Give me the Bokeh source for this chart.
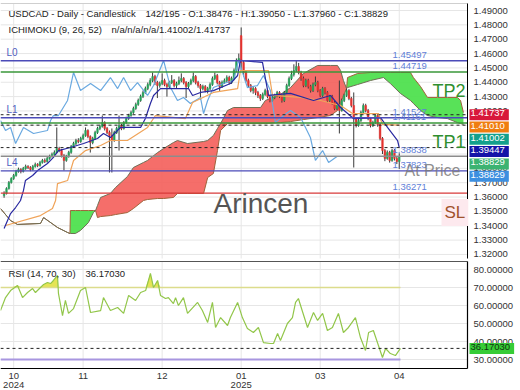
import numpy as np
from bokeh.plotting import figure
from bokeh.models import ColumnDataSource, Range1d, Label
from bokeh.layouts import column
from bokeh.embed import file_html
from bokeh.resources import INLINE

FONT = "Liberation Sans"

# ---------------- data ----------------
first_open = 1.3610
gap_opens = {99: 1.4725}
closes = [
    1.3624, 1.3659, 1.3701, 1.3729, 1.3750, 1.3778, 1.3792, 1.3778, 1.3799, 1.3813,
    1.3806, 1.3792, 1.3813, 1.3827, 1.3820, 1.3841, 1.3855, 1.3848, 1.3869, 1.3883,
    1.3897, 1.3911, 1.3938, 1.3924, 1.3890, 1.3855, 1.3883, 1.3911, 1.3952, 1.3973,
    1.3994, 1.3987, 1.4008, 1.4029, 1.4064, 1.4022, 1.3980, 1.4008, 1.4050, 1.4078,
    1.4092, 1.4119, 1.4078, 1.4050, 1.4029, 1.3994, 1.4050, 1.4078, 1.4099, 1.4078,
    1.4119, 1.4147, 1.4168, 1.4189, 1.4217, 1.4245, 1.4273, 1.4301, 1.4328, 1.4356,
    1.4384, 1.4412, 1.4440, 1.4398, 1.4377, 1.4391, 1.4412, 1.4384, 1.4370, 1.4398,
    1.4412, 1.4377, 1.4391, 1.4412, 1.4426, 1.4398, 1.4370, 1.4391, 1.4412, 1.4440,
    1.4398, 1.4377, 1.4356, 1.4370, 1.4342, 1.4356, 1.4384, 1.4426, 1.4447, 1.4398,
    1.4370, 1.4398, 1.4412, 1.4433, 1.4398, 1.4426, 1.4482, 1.4552, 1.4566, 1.4538,
    1.4468, 1.4412, 1.4377, 1.4342, 1.4356, 1.4328, 1.4308, 1.4287, 1.4315, 1.4342,
    1.4301, 1.4273, 1.4294, 1.4308, 1.4328, 1.4301, 1.4273, 1.4328, 1.4377, 1.4426,
    1.4454, 1.4482, 1.4510, 1.4468, 1.4426, 1.4377, 1.4412, 1.4370, 1.4342, 1.4384,
    1.4398, 1.4342, 1.4308, 1.4356, 1.4328, 1.4273, 1.4301, 1.4259, 1.4217, 1.4245,
    1.4203, 1.4273, 1.4308, 1.4342, 1.4287, 1.4238, 1.4147, 1.4099, 1.4133, 1.4189,
    1.4238, 1.4203, 1.4147, 1.4099, 1.4119, 1.4168, 1.4105, 1.4008, 1.3924, 1.3869,
    1.3911, 1.3855, 1.3924, 1.3869, 1.38476, 1.38829,
]
highs = [
    1.3640, 1.3668, 1.3712, 1.3738, 1.3761, 1.3790, 1.3805, 1.3801, 1.3810, 1.3826,
    1.3822, 1.3815, 1.3824, 1.3840, 1.3836, 1.3852, 1.3866, 1.3869, 1.3880, 1.3895,
    1.3910, 1.3925, 1.4085, 1.3950, 1.3936, 1.3899, 1.3894, 1.3922, 1.3963, 1.3985,
    1.4006, 1.4010, 1.4020, 1.4042, 1.4085, 1.4072, 1.4030, 1.4020, 1.4062, 1.4090,
    1.4105, 1.4168, 1.4128, 1.4088, 1.4064, 1.4078, 1.4062, 1.4090, 1.4168, 1.4110,
    1.4130, 1.4160, 1.4180, 1.4202, 1.4230, 1.4258, 1.4286, 1.4314, 1.4342, 1.4370,
    1.4398, 1.4428, 1.4468, 1.4452, 1.4410, 1.4405, 1.4462, 1.4425, 1.4396, 1.4410,
    1.4450, 1.4422, 1.4404, 1.4440, 1.4462, 1.4436, 1.4408, 1.4402, 1.4425, 1.4468,
    1.4450, 1.4410, 1.4388, 1.4383, 1.4380, 1.4368, 1.4398, 1.4440, 1.4468, 1.4458,
    1.4410, 1.4412, 1.4426, 1.4448, 1.4445, 1.4440, 1.4496, 1.4566, 1.4600, 1.4782,
    1.4550, 1.4480, 1.4425, 1.4388, 1.4370, 1.4366, 1.4340, 1.4318, 1.4328, 1.4355,
    1.4352, 1.4312, 1.4306, 1.4320, 1.4340, 1.4338, 1.4312, 1.4340, 1.4390, 1.4440,
    1.4480, 1.4525, 1.4548, 1.4535, 1.4480, 1.4440, 1.4425, 1.4424, 1.4382, 1.4398,
    1.4440, 1.4410, 1.4352, 1.4368, 1.4366, 1.4338, 1.4312, 1.4312, 1.4270, 1.4258,
    1.4412, 1.4286, 1.4320, 1.4356, 1.4352, 1.4298, 1.4329, 1.4158, 1.4146, 1.4202,
    1.4252, 1.4250, 1.4214, 1.4158, 1.4132, 1.4185, 1.4180, 1.4115, 1.4018, 1.3935,
    1.3925, 1.3922, 1.3936, 1.3935, 1.3880, 1.39050,
]
lows = [
    1.3595, 1.3618, 1.3652, 1.3694, 1.3720, 1.3742, 1.3770, 1.3765, 1.3771, 1.3790,
    1.3795, 1.3780, 1.3784, 1.3805, 1.3808, 1.3812, 1.3833, 1.3837, 1.3840, 1.3860,
    1.3875, 1.3888, 1.3905, 1.3912, 1.3876, 1.3785, 1.3846, 1.3874, 1.3902, 1.3944,
    1.3962, 1.3975, 1.3978, 1.3998, 1.4020, 1.4010, 1.3910, 1.3968, 1.3998, 1.4040,
    1.4066, 1.4084, 1.4064, 1.4038, 1.3771, 1.3771, 1.3985, 1.4040, 1.3924, 1.4066,
    1.4070, 1.4110, 1.4138, 1.4160, 1.4180, 1.4208, 1.4236, 1.4264, 1.4290, 1.4318,
    1.4345, 1.4372, 1.4400, 1.4380, 1.4290, 1.4362, 1.4380, 1.4372, 1.4300, 1.4358,
    1.4388, 1.4364, 1.4360, 1.4380, 1.4400, 1.4385, 1.4290, 1.4358, 1.4380, 1.4400,
    1.4385, 1.4362, 1.4280, 1.4344, 1.4330, 1.4322, 1.4345, 1.4375, 1.4415, 1.4385,
    1.4340, 1.4360, 1.4388, 1.4400, 1.4385, 1.4388, 1.4415, 1.4470, 1.4540, 1.4480,
    1.4440, 1.4400, 1.4364, 1.4330, 1.4320, 1.4310, 1.4290, 1.4270, 1.4276, 1.4305,
    1.4288, 1.4260, 1.4262, 1.4282, 1.4296, 1.4290, 1.4258, 1.4262, 1.4318, 1.4368,
    1.4415, 1.4440, 1.4470, 1.4455, 1.4410, 1.4365, 1.4366, 1.4356, 1.4328, 1.4332,
    1.4372, 1.4330, 1.4296, 1.4298, 1.4315, 1.4260, 1.4262, 1.4245, 1.4205, 1.4206,
    1.4043, 1.4195, 1.4262, 1.4298, 1.4275, 1.4225, 1.3806, 1.4085, 1.4090, 1.4124,
    1.4180, 1.4190, 1.4135, 1.4085, 1.4088, 1.4110, 1.4090, 1.3995, 1.3900, 1.3850,
    1.3860, 1.3840, 1.3846, 1.3855, 1.3830, 1.37960,
]

tenkan_x = [0, 2.7, 4.8, 6.85, 8.1, 8.9, 11.9, 14, 18.1, 20.6, 22.7, 27.7, 33.2, 39, 41.5,
            44.4, 48.6, 57, 59, 61.1, 62.4, 65.3, 77, 78.7, 82, 87.4, 94.5, 97.5, 98.7, 107.9,
            110.4, 119.6, 129.2, 136.3, 140.5, 145.9, 157.2, 160.1, 164.3, 165]
tenkan_y = [1.3381, 1.3485, 1.3527, 1.3576, 1.3646, 1.3715, 1.3750, 1.3785, 1.3834, 1.3876,
            1.3924, 1.3945, 1.3973, 1.4008, 1.4043, 1.4015, 1.4085, 1.4085, 1.4147, 1.4252,
            1.4308, 1.4356, 1.4356, 1.4308, 1.4329, 1.4342, 1.4391, 1.4447, 1.4552, 1.4538,
            1.4308, 1.4322, 1.4273, 1.4308, 1.4224, 1.4147, 1.4154, 1.4085, 1.3994, 1.39447]

kijun_x = [0.6, 15.2, 20.2, 21.5, 22.3, 26.5, 29, 34, 40.3, 44.4, 51.5, 59.9, 63.2, 75.7,
           78.7, 87.4, 97.5, 98.7, 110.4, 112.1, 123.8, 132.1, 140.5, 145.5, 156.3, 158, 165]
kijun_y = [1.3402, 1.3471, 1.3520, 1.3576, 1.3694, 1.3715, 1.3855, 1.3924, 1.3959, 1.3994,
           1.3994, 1.4085, 1.4168, 1.4147, 1.4259, 1.4329, 1.4356, 1.4482, 1.4482, 1.4308,
           1.4294, 1.4273, 1.4238, 1.4182, 1.4182, 1.4106, 1.41010]

chikou_x = [-1.5, 0.6, 2.7, 4.8, 8.1, 12.3, 18.1, 19.4, 20.6, 22.7, 26.5, 29, 31.9, 36.1,
            40.3, 44.4, 47.4, 49.9, 52.8, 55.7, 59.9, 62.4, 66.6, 69.5, 72.4, 74.9, 77.8,
            82, 83.3, 85, 87.4, 91.6, 95.8, 97.9, 101.6, 105.8, 108.3, 111.2, 113.3, 116.7,
            119.6, 123.8, 127.9, 130, 133, 135.5, 139]
chikou_y = [1.4133, 1.4064, 1.4085, 1.3973, 1.4085, 1.4043, 1.4064, 1.4133, 1.4168, 1.4168,
            1.4273, 1.4468, 1.4342, 1.4391, 1.4342, 1.4433, 1.4356, 1.4433, 1.4342, 1.4398,
            1.4308, 1.4377, 1.4552, 1.4363, 1.4273, 1.4294, 1.4252, 1.4294, 1.4182, 1.4273,
            1.4363, 1.4391, 1.4412, 1.4552, 1.4363, 1.4377, 1.4447, 1.4342, 1.4119, 1.4168,
            1.4203, 1.4154, 1.4015, 1.3855, 1.3924, 1.3841, 1.38829]

cloud_x = [-1.5, 2.7, 5.6, 15.2, 16.5, 22.3, 26.5, 27.5, 27.7, 29.8, 31.9, 35.2, 37.3, 38.2,
           39.0, 40.3, 44.4, 46.5, 51.5, 54.0, 58.2, 59.9, 64.1, 66.6, 70.7, 72.4, 76.6,
           83.3, 85.0, 87.4, 89.1, 90.4, 93.3, 95.8, 107.1, 109.1, 115.4, 119.6, 125.0,
           130.9, 136.3, 139.2, 140.5, 141.7, 143.0, 143.4, 147.6, 153.0, 158.4, 161.3,
           165.5, 169.7, 170.9, 173.9, 176.8, 181.0, 185.1, 189.3, 190.6, 191.8]
span_a = [1.3520, 1.3436, 1.3409, 1.3416, 1.3457, 1.3388, 1.3353, 1.3346, 1.3506, 1.3506,
          1.3506, 1.3506, 1.3506, 1.3506, 1.3457, 1.3464, 1.3471, 1.3478, 1.3492, 1.3520,
          1.3576, 1.3583, 1.3590, 1.3590, 1.3597, 1.3625, 1.3625, 1.3625, 1.3736, 1.3764,
          1.3924, 1.4064, 1.4112, 1.4112, 1.4112, 1.4112, 1.4119, 1.4126, 1.4140, 1.4154,
          1.4168, 1.4203, 1.4252, 1.4308, 1.4356, 1.4433, 1.4461, 1.4468, 1.4468, 1.4468,
          1.4468, 1.4468, 1.4433, 1.4370, 1.4294, 1.4294, 1.4294, 1.4294, 1.4273, 1.4189]
span_b = [1.3520, 1.3436, 1.3409, 1.3416, 1.3457, 1.3388, 1.3353, 1.3346, 1.3346, 1.3346,
          1.3367, 1.3422, 1.3492, 1.3506, 1.3541, 1.3597, 1.3625, 1.3666, 1.3743, 1.3806,
          1.3841, 1.3855, 1.3910, 1.3938, 1.3980, 1.3994, 1.3973, 1.3987, 1.3994, 1.4029,
          1.4078, 1.4112, 1.4203, 1.4224, 1.4224, 1.4273, 1.4315, 1.4363, 1.4461, 1.4517,
          1.4517, 1.4517, 1.4482, 1.4412, 1.4356, 1.4363, 1.4384, 1.4412, 1.4433, 1.4391,
          1.4322, 1.4273, 1.4252, 1.4203, 1.4168, 1.4154, 1.4147, 1.4119, 1.4112, 1.4106]

rsi_x = [-1.5, 0.6, 2.7, 5.6, 7.7, 9.8, 11.9, 13.1, 15.2, 16.5, 18.1, 19.4, 20.6, 22.3, 22.7,
         24.4, 25.6, 26.9, 29, 31.9, 34, 36.1, 40.3, 41.5, 44.4, 47.4, 49.9, 52, 54.9, 57,
         59.1, 61.1, 62.4, 64.1, 65.3, 67.4, 68.6, 70.7, 71.6, 72.8, 74.9, 76.6, 80.8, 82.8,
         85, 87, 88.3, 90.4, 93.3, 94.5, 97.5, 99.5, 101.6, 104.1, 106.2, 108.3, 111.2,
         112.5, 114.2, 115.4, 118.3, 120.4, 121.7, 122.9, 123.8, 126.7, 129.2, 130.9, 133,
         135, 137.1, 139.6, 141.7, 143.8, 146.7, 148.8, 150.9, 152.2, 154.2, 158, 159.3,
         161.3, 163.4, 165.5]
rsi_v = [57.2, 64.4, 68.3, 71.1, 64.4, 67.2, 69.4, 67.2, 70, 71.7, 72.8, 72.2, 73.9, 76.7,
         66.7, 54.4, 62.8, 55.6, 58.3, 68.3, 70, 56.1, 57.2, 64.4, 57.2, 58.9, 55.6, 65.6,
         62.8, 67.2, 68.3, 77.8, 70, 73.9, 65.6, 63.9, 64.4, 61.1, 64.4, 60, 64.4, 55.6,
         61.7, 57.2, 50.6, 61.7, 47.8, 53.3, 48.9, 53.3, 61.7, 53.3, 47.2, 45, 47.8, 39.4,
         38.9, 38.9, 44.4, 40.6, 50, 53.3, 61.7, 63.9, 60, 47.8, 56.1, 51.7, 55.6, 46.1,
         47.8, 55.6, 45, 47.8, 53.3, 42.2, 35, 45, 46.1, 31.1, 36.1, 33.3, 32.2, 36.17]
rsi_last = 36.17030
rsi_upper = 70
rsi_lower = 30

level_prices = [1.45497, 1.44719, 1.41527, 1.41161, 1.38838, 1.37823, 1.36271]
level_colors = ["#4b4bb8", "#3a973a", "#4b4bb8", "#3a973a", "#8c8c8c", "#4b4bb8", "#d83a3a"]
level_names = {1.45497: "L0", 1.41527: "L1", 1.37823: "L4"}
marker_prices = [1.41737, 1.41010, 1.39447]
box_texts = ["1.41737", "1.41010", "1.41002", "1.39447", "1.38829", "1.38829"]
box_colors = ["#d8183a", "#f07d10", "#13a08c", "#1414a8", "#3cb371", "#3d8fe0"]

price_ticks = [1.32, 1.33, 1.34, 1.35, 1.36, 1.37, 1.38, 1.39, 1.40,
               1.41, 1.42, 1.43, 1.44, 1.45, 1.46, 1.47, 1.48, 1.49]
rsi_ticks = [30, 40, 50, 60, 70, 80]
tick_bars = [4, 33, 66, 99, 132, 165]
month_labels = ["10", "11", "12", "01", "03", "04"]
year_labels = {4: "2024", 99: "2025"}

# ---------------- geometry (pixels <-> data) ----------------
PX_PER_BAR = 467 / 195.0
X0 = -1.5                      # left edge of the plot area (bar units)
X_PLOT_END = 193.5             # right edge of the plot area (axis line)
X_END = X0 + 520 / PX_PER_BAR  # right edge of the canvas
X_LAB = X0 + 473 / PX_PER_BAR  # where axis labels start
PPU = 1435.0                   # pixels per price unit
P_TOP_CANVAS = 1.49 + 10 / PPU
P_BOT_CANVAS = 1.49 - 250 / PPU
P_TOP = 1.49 + 7 / PPU         # plot area top  (y = 3 px)
P_BOT = 1.49 - 248 / PPU       # plot area bottom (y = 258 px)
R_PPU = 1.8
R_TOP_CANVAS = 70 + 27 / R_PPU   # canvas y = 260
R_BOT_CANVAS = 30 - 31 / R_PPU   # canvas y = 390
R_TOP = 70 + 26 / R_PPU          # panel top (y = 261)
R_BOT = 30 - 9 / R_PPU           # panel bottom (y = 368)

GRID = "#e6e6e6"

# ---------------- main price panel ----------------
opens = [first_open] + closes[:-1]
for k, v in gap_opens.items():
    opens[k] = v
idx = list(range(len(closes)))
cols = ["#27a35a" if c >= o else "#e5322f" for o, c in zip(opens, closes)]
src = ColumnDataSource(dict(
    x=idx, h=highs, l=lows,
    top=[max(o, c) for o, c in zip(opens, closes)],
    bot=[min(o, c) for o, c in zip(opens, closes)],
    color=cols))

p = figure(width=520, height=260, x_range=Range1d(X0, X_END),
           y_range=Range1d(P_BOT_CANVAS, P_TOP_CANVAS),
           x_axis_location=None, y_axis_location=None, toolbar_location=None,
           output_backend="svg", min_border=0)
p.outline_line_color = None
p.grid.visible = False

# grid
p.segment(x0=X0, x1=X_PLOT_END, y0=price_ticks, y1=price_ticks, line_color=GRID, line_width=1)
p.segment(x0=tick_bars, x1=tick_bars, y0=P_BOT, y1=P_TOP, line_color=GRID, line_width=1)
p.segment(x0=X0, x1=X_PLOT_END, y0=P_TOP, y1=P_TOP, line_color="#cfcfcf", line_width=1)

# cloud
a = np.array(span_a)
b = np.array(span_b)
hi = np.maximum(a, b)
p.varea(x=cloud_x, y1=b, y2=hi, fill_color="#4fe04f", fill_alpha=0.95)
p.varea(x=cloud_x, y1=a, y2=hi, fill_color="#f45e5a", fill_alpha=0.9)
p.line(cloud_x, span_a, line_color="#a0623a", line_width=1)
p.line(cloud_x, span_b, line_color="#6f6f55", line_width=1)

# candles
p.segment(x0="x", x1="x", y0="l", y1="h", source=src, line_color="#3a3a3a", line_width=1)
p.vbar(x="x", width=0.7, top="top", bottom="bot", source=src,
       fill_color="color", line_color="color", line_width=0.5)

# ichimoku lines
p.line(chikou_x, chikou_y, line_color="#6aa9e0", line_width=1.2)
p.line(kijun_x, kijun_y, line_color="#f0a45a", line_width=1.2)
p.line(tenkan_x, tenkan_y, line_color="#2828a0", line_width=1.2)

# level lines
p.segment(x0=X0, x1=X_PLOT_END, y0=level_prices, y1=level_prices,
          line_color=level_colors, line_width=1.4)
p.segment(x0=X0, x1=X_PLOT_END, y0=marker_prices, y1=marker_prices,
          line_color="#222222", line_width=1, line_dash="3 3")

# axis (right)
p.segment(x0=X_PLOT_END, x1=X_PLOT_END, y0=P_BOT, y1=P_TOP, line_color="#000000", line_width=1)
p.text(x=[X_LAB] * len(price_ticks), y=price_ticks, text=[f"{t:.5f}" for t in price_ticks],
       text_font={"value": FONT}, text_font_size="9.5px", text_color="#333333",
       text_baseline="middle", text_align="left")

for lp in level_prices:
    p.add_layout(Label(x=392, x_units="screen", y=lp, y_offset=6, text=f"{lp:.5f}",
                       text_font=FONT, text_font_size="9.5px", text_color="#5f7fd8",
                       text_baseline="middle"))
for lp, name in level_names.items():
    p.add_layout(Label(x=6, x_units="screen", y=lp, y_offset=8.5, text=name,
                       text_font=FONT, text_font_size="10px", text_color="#5060c0",
                       text_baseline="middle"))

# price boxes on the right axis
for k, (t, c) in enumerate(zip(box_texts, box_colors)):
    p.add_layout(Label(x=469, x_units="screen", y=marker_prices[0], y_offset=-12.3 * k,
                       text=t, text_font=FONT, text_font_size="9.5px", text_color="white",
                       text_baseline="middle", background_fill_color=c,
                       padding=(1, 4, 1, 4)))

FB = 260  # main frame bottom (canvas px)

def top_label(fig, fb, ytop, **kw):
    fig.add_layout(Label(x_units="screen", y_units="screen", y=fb - ytop, **kw))

top_label(p, FB, 12.5, x=8, text="USDCAD - Daily - Candlestick", text_font=FONT,
          text_font_size="9.5px", text_color="#222222", text_baseline="middle")
top_label(p, FB, 12.5, x=145, text="142/195 - O:1.38476 - H:1.39050 - L:1.37960 - C:1.38829",
          text_font=FONT, text_font_size="9.5px", text_color="#222222", text_baseline="middle")
top_label(p, FB, 29.3, x=8, text="ICHIMOKU (9, 26, 52)", text_font=FONT,
          text_font_size="9.5px", text_color="#222222", text_baseline="middle")
top_label(p, FB, 29.3, x=111, text="n/a/n/a/n/a/1.41002/1.41737", text_font=FONT,
          text_font_size="9.5px", text_color="#222222", text_baseline="middle")
top_label(p, FB, 90, x=432, text="TP2", text_font=FONT, text_font_size="18px",
          text_color="#2f8f2f", text_baseline="alphabetic")
top_label(p, FB, 141, x=432, text="TP1", text_font=FONT, text_font_size="18px",
          text_color="#2f8f2f", text_baseline="alphabetic")
top_label(p, FB, 212, x=441, text="SL", text_font=FONT, text_font_size="17px",
          text_color="#a0522d", text_baseline="alphabetic",
          background_fill_color="#fde9ee", padding=(3, 3, 4, 4))
top_label(p, FB, 170, x=404, text="At Price", text_font=FONT, text_font_size="16px",
          text_color="#7a7a7a", text_alpha=0.85, text_baseline="middle")
top_label(p, FB, 203, x=213, text="Arincen", text_font=FONT, text_font_size="28px",
          text_color="#555555", text_baseline="alphabetic")

# ---------------- RSI panel ----------------
r = figure(width=520, height=130, x_range=p.x_range,
           y_range=Range1d(R_BOT_CANVAS, R_TOP_CANVAS),
           x_axis_location=None, y_axis_location=None, toolbar_location=None,
           output_backend="svg", min_border=0)
r.outline_line_color = None
r.grid.visible = False

r.segment(x0=X0, x1=X_PLOT_END, y0=rsi_ticks, y1=rsi_ticks, line_color=GRID, line_width=1)
r.segment(x0=tick_bars, x1=tick_bars, y0=R_BOT, y1=R_TOP, line_color=GRID, line_width=1)

rv = np.array(rsi_v)
r.varea(x=rsi_x, y1=[rsi_upper] * len(rsi_x), y2=np.maximum(rv, rsi_upper),
        fill_color="#e3e34c", fill_alpha=0.95)
r.line([rsi_x[0], rsi_x[-1]], [rsi_upper, rsi_upper], line_color="#dcdc8c", line_width=1.5)
r.line([rsi_x[0], rsi_x[-1]], [rsi_lower, rsi_lower], line_color="#a896e0", line_width=2)
r.line(rsi_x, rsi_v, line_color="#92c64a", line_width=1.2)
r.segment(x0=X0, x1=X_PLOT_END, y0=rsi_last, y1=rsi_last, line_color="#222222",
          line_width=1, line_dash="3 3")

# panel border
r.segment(x0=X0, x1=X_PLOT_END, y0=R_TOP, y1=R_TOP, line_color="#555555", line_width=1.2)
r.segment(x0=X0, x1=X_PLOT_END, y0=R_BOT, y1=R_BOT, line_color="#000000", line_width=1.2)
r.segment(x0=X_PLOT_END, x1=X_PLOT_END, y0=R_BOT, y1=R_TOP, line_color="#000000", line_width=1.2)

r.text(x=[X_LAB] * len(rsi_ticks), y=rsi_ticks, text=[f"{t:.5f}" for t in rsi_ticks],
       text_font={"value": FONT}, text_font_size="9.5px", text_color="#333333",
       text_baseline="middle", text_align="left")

r.add_layout(Label(x=469, x_units="screen", y=rsi_last, text=f"{rsi_last:.5f}",
                   text_font=FONT, text_font_size="9.5px", text_color="#113311",
                   text_baseline="middle", background_fill_color="#36cc36",
                   padding=(1, 4, 1, 4)))
RB = 130  # RSI frame bottom (local px)
top_label(r, RB, 13.3, x=8, text="RSI (14, 70, 30)", text_font=FONT,
          text_font_size="9.5px", text_color="#222222", text_baseline="middle")
top_label(r, RB, 13.3, x=85, text=f"{rsi_last:.5f}", text_font=FONT,
          text_font_size="9.5px", text_color="#222222", text_baseline="middle")
for t, m in zip(tick_bars, month_labels):
    r.add_layout(Label(x=t, y=RB - 115, y_units="screen", text=m, text_font=FONT,
                       text_font_size="9.5px", text_color="#333333",
                       text_align="center", text_baseline="middle"))
for t, yl in year_labels.items():
    r.add_layout(Label(x=t, y=RB - 124, y_units="screen", text=yl, text_font=FONT,
                       text_font_size="9.5px", text_color="#333333",
                       text_align="center", text_baseline="middle"))

layout = column(p, r, spacing=0)

open("out.html", "w").write(file_html(layout, INLINE))
